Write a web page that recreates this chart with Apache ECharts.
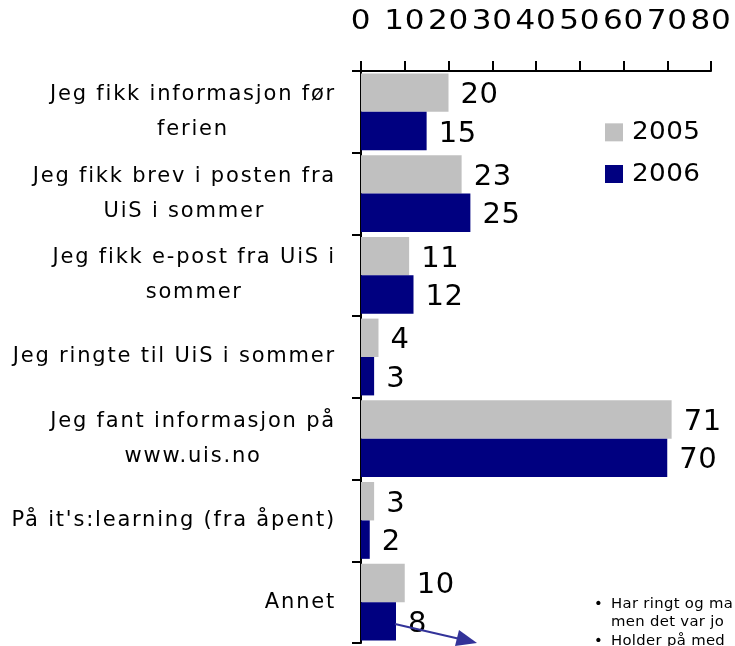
<!DOCTYPE html>
<html>
<head>
<meta charset="utf-8">
<script src="https://cdn.jsdelivr.net/npm/echarts@6/dist/echarts.min.js"></script>
<style>
html,body{margin:0;padding:0;background:#fff;}
#chart{width:735px;height:646px;}
</style>
</head>
<body>
<div id="chart"></div>
<script>
const categories = [
  "Jeg fikk informasjon før\nferien",
  "Jeg fikk brev i posten fra\nUiS i sommer",
  "Jeg fikk e-post fra UiS i\nsommer",
  "Jeg ringte til UiS i sommer",
  "Jeg fant informasjon på\nwww.uis.no",
  "På it's:learning (fra åpent)",
  "Annet"
];
const values2005 = [20, 23, 11, 4, 71, 3, 10];
const values2006 = [15, 25, 12, 3, 70, 2, 8];
const seriesNames = ["2005", "2006"];
const xTicks = { min: 0, max: 80, interval: 10 };
const notes = ["Har ringt og ma", "men det var jo", "Holder på med"];

// The original's type is widely spaced / horizontally wide: emulate per font size.
(function () {
  const P = CanvasRenderingContext2D.prototype;
  const hasLS = ('letterSpacing' in P);
  const cfg = {
    21: { ls: 1.8, k: 1 },     // category labels
    27: { ls: 0.6, k: 1.15 },  // x-axis tick labels
    29: { ls: 0.6, k: 1.0 },   // value labels
    25: { ls: 0.4, k: 1.05 },  // legend
    14: { ls: 0.3, k: 1.06 }   // note text
  };
  function get(font) {
    if (!/DejaVu Sans/.test(font)) return null;
    const m = /(\d+(?:\.\d+)?)px/.exec(font);
    const s = m ? Math.round(parseFloat(m[1])) : 12;
    return cfg[s] || null;
  }
  const f = P.fillText, mt = P.measureText;
  P.fillText = function (t, x, y, w) {
    const c = get(this.font);
    if (!c) return w === undefined ? f.call(this, t, x, y) : f.call(this, t, x, y, w);
    const prev = hasLS ? this.letterSpacing : null;
    if (hasLS) this.letterSpacing = c.ls + 'px';
    this.save();
    this.translate(x, y);
    this.scale(c.k, 1);
    f.call(this, t, 0, 0);
    this.restore();
    if (hasLS) this.letterSpacing = prev;
  };
  P.measureText = function (t) {
    const c = get(this.font);
    if (!c) return mt.call(this, t);
    const prev = hasLS ? this.letterSpacing : null;
    if (hasLS) this.letterSpacing = c.ls + 'px';
    const r = mt.call(this, t);
    if (hasLS) this.letterSpacing = prev;
    return {
      width: r.width * c.k,
      actualBoundingBoxAscent: r.actualBoundingBoxAscent,
      actualBoundingBoxDescent: r.actualBoundingBoxDescent,
      actualBoundingBoxLeft: r.actualBoundingBoxLeft * c.k,
      actualBoundingBoxRight: r.actualBoundingBoxRight * c.k,
      fontBoundingBoxAscent: r.fontBoundingBoxAscent,
      fontBoundingBoxDescent: r.fontBoundingBoxDescent
    };
  };
})();

const chart = echarts.init(document.getElementById('chart'), null, { renderer: 'canvas' });

const FONT = 'DejaVu Sans';

const valueLabel = {
  show: true,
  position: 'right',
  distance: 12,
  offset: [0, 3],
  color: '#000',
  fontSize: 29,
  fontFamily: FONT
};

const option = {
  animation: false,
  backgroundColor: '#fff',
  grid: { left: 361, top: 71, width: 350, height: 572, containLabel: false },
  legend: {
    orient: 'vertical',
    left: 605,
    top: 119,
    itemWidth: 18,
    itemHeight: 18,
    itemGap: 15,
    padding: 0,
    icon: 'rect',
    textStyle: { fontSize: 25, color: '#000', fontFamily: FONT, padding: [0, 0, 0, 4] },
    data: seriesNames
  },
  xAxis: {
    type: 'value',
    position: 'top',
    min: xTicks.min,
    max: xTicks.max,
    interval: xTicks.interval,
    axisLine: { show: true, lineStyle: { color: '#000', width: 2 } },
    axisTick: { show: true, length: 10, lineStyle: { color: '#000', width: 2 } },
    axisLabel: { fontSize: 27, color: '#000', fontFamily: FONT, margin: 33 },
    splitLine: { show: false }
  },
  yAxis: {
    type: 'category',
    inverse: true,
    data: categories,
    axisLine: { show: true, lineStyle: { color: '#000', width: 2 } },
    axisTick: { show: true, length: 9, lineStyle: { color: '#000', width: 2 } },
    axisLabel: {
      margin: 25,
      color: '#000',
      fontSize: 21,
      fontFamily: FONT,
      formatter: function (v) {
        return v.split('\n').map(s => '{c|' + s + '}').join('\n');
      },
      rich: {
        c: { align: 'center', fontSize: 21, lineHeight: 35, fontFamily: FONT, color: '#000' }
      }
    }
  },
  series: [
    {
      name: seriesNames[0],
      type: 'bar',
      data: values2005,
      barGap: '0%',
      barCategoryGap: '6%',
      itemStyle: { color: '#C0C0C0' },
      label: valueLabel
    },
    {
      name: seriesNames[1],
      type: 'bar',
      data: values2006,
      barGap: '0%',
      barCategoryGap: '6%',
      itemStyle: { color: '#000080' },
      label: valueLabel
    }
  ],
  graphic: [
    { type: 'line', shape: { x1: 395, y1: 624, x2: 460, y2: 639 }, style: { stroke: '#333399', lineWidth: 2 }, z: 100 },
    { type: 'polygon', shape: { points: [[477, 643], [459, 630], [455, 646]] }, style: { fill: '#333399' }, z: 100 },
    { type: 'text', left: 594, top: 597, style: { text: '•', fontSize: 14, fill: '#000', fontFamily: FONT } },
    { type: 'text', left: 611, top: 597, style: { text: notes[0], fontSize: 14, fill: '#000', fontFamily: FONT } },
    { type: 'text', left: 611, top: 615, style: { text: notes[1], fontSize: 14, fill: '#000', fontFamily: FONT } },
    { type: 'text', left: 594, top: 634, style: { text: '•', fontSize: 14, fill: '#000', fontFamily: FONT } },
    { type: 'text', left: 611, top: 634, style: { text: notes[2], fontSize: 14, fill: '#000', fontFamily: FONT } }
  ]
};

chart.setOption(option);
</script>
</body>
</html>
